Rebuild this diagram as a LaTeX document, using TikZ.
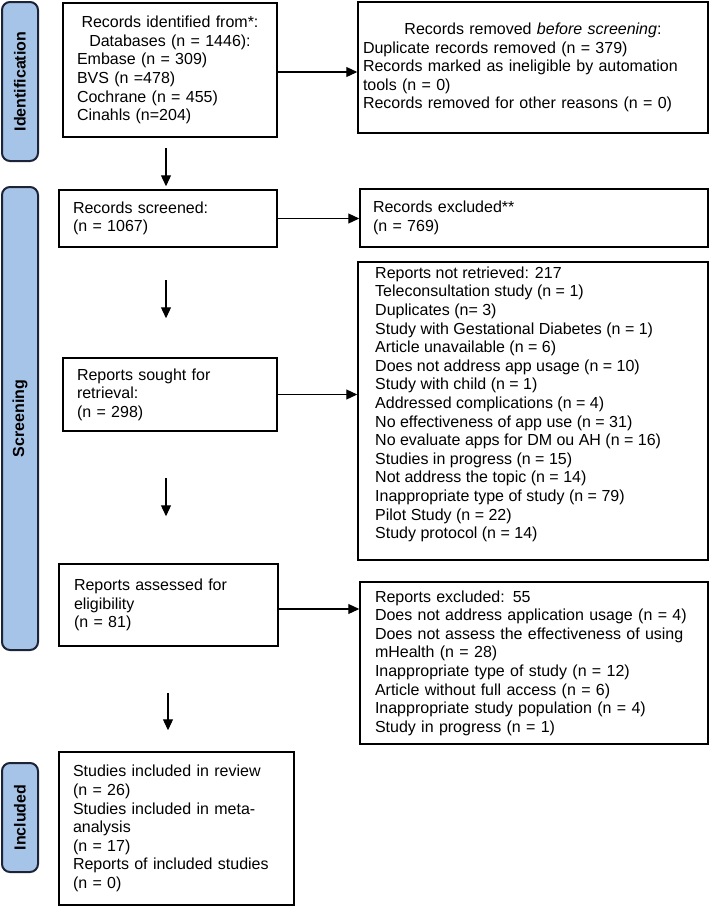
\documentclass[tikz,border=0pt]{standalone}
\usepackage{fontspec}
\setmainfont{Liberation Sans}
\usetikzlibrary{arrows.meta}
\definecolor{lblfill}{RGB}{166,196,232}
\definecolor{lbldraw}{RGB}{30,36,56}
\begin{document}
\begin{tikzpicture}[x=1pt,y=-1pt,
  txt/.style={font=\fontsize{16}{18.6}\selectfont},
  box/.style={txt, draw=black, line width=1.5pt, inner ysep=0pt, align=left},
  lbl/.style={draw=lbldraw, fill=lblfill, line width=2pt, rounded corners=8pt,
    minimum height=36pt, rotate=90, inner sep=0pt,
    font=\fontsize{16}{18}\selectfont\bfseries},
  arr/.style={line width=1.2pt, -{Triangle[length=11pt,width=10pt]}}]
\useasboundingbox (0,0) rectangle (710,906);

% phase labels
\node[lbl, minimum width=159pt] (lid) at (20,81.5) {Identification};
\node[lbl, minimum width=463pt] (lscr) at (20,418.5) {Screening};
\node[lbl, minimum width=109pt] (linc) at (20,817.5) {Included};

% left column
\node[box, minimum width=214pt, minimum height=134pt, inner xsep=14pt, text width=186pt] (id) at (170,70)
 {\makebox[\linewidth]{Records identified from*:}\\
  \makebox[\linewidth]{Databases (n = 1446):}\\
  Embase (n = 309)\\
  BVS (n =478)\\
  Cochrane (n = 455)\\
  Cinahls (n=204)};

\node[box, minimum width=218pt, minimum height=57pt, inner xsep=14pt, text width=190pt] (scr) at (168,218.5)
 {Records screened:\\(n = 1067)};

\node[box, minimum width=214pt, minimum height=73pt, inner xsep=14pt, text width=186pt] (sou) at (170,394.5)
 {Reports sought for\\retrieval:\\(n = 298)};

\node[box, minimum width=219pt, minimum height=82pt, inner xsep=15pt, text width=189pt] (asd) at (168.5,605)
 {Reports assessed for\\eligibility\\(n = 81)};

\node[box, minimum width=235pt, minimum height=153pt, inner xsep=14pt, text width=207pt] (inc) at (176.5,828.5)
 {Studies included in review\\(n = 26)\\Studies included in meta-\\analysis\\(n = 17)\\Reports of included studies\\(n = 0)};

% right column
\node[box, minimum width=350pt, minimum height=131pt, inner xsep=5pt, text width=340pt] (rem) at (533,67.5)
 {\makebox[\linewidth]{Records removed \textit{before screening}:}\\
  Duplicate records removed (n = 379)\\
  Records marked as ineligible by automation\\
  tools (n = 0)\\
  Records removed for other reasons (n = 0)};

\node[box, minimum width=348pt, minimum height=58pt, inner xsep=13pt, text width=322pt] (exc) at (534,218)
 {Records excluded**\\(n = 769)};

\node[box, minimum width=350pt, minimum height=298pt] (nr) at (533,411) {};
\node[txt, anchor=north west, align=left, inner sep=0pt] (nrt) at (375,266.5)
 {Reports not retrieved: 217\\
  Teleconsultation study (n = 1)\\
  Duplicates (n= 3)\\
  Study with Gestational Diabetes (n = 1)\\
  Article unavailable (n = 6)\\
  Does not address app usage (n = 10)\\
  Study with child (n = 1)\\
  Addressed complications (n = 4)\\
  No effectiveness of app use (n = 31)\\
  No evaluate apps for DM ou AH (n = 16)\\
  Studies in progress (n = 15)\\
  Not address the topic (n = 14)\\
  Inappropriate type of study (n = 79)\\
  Pilot Study (n = 22)\\
  Study protocol (n = 14)};

\node[box, minimum width=348pt, minimum height=162pt, inner xsep=15pt, text width=318pt] (ex2) at (534,663)
 {Reports excluded: 55\\
  Does not address application usage (n = 4)\\
  Does not assess the effectiveness of using\\
  mHealth (n = 28)\\
  Inappropriate type of study (n = 12)\\
  Article without full access (n = 6)\\
  Inappropriate study population (n = 4)\\
  Study in progress (n = 1)};

% horizontal arrows
\draw[arr] ([yshift=-2pt]id.east) -- ([yshift=-2pt]id.east -| rem.west);
\draw[arr] (scr.east) -- (scr.east -| exc.west);
\draw[arr] (sou.east) -- (sou.east -| nr.west);
\draw[arr] ([yshift=-4pt]asd.east) -- ([yshift=-4pt]asd.east -| ex2.west);

% vertical arrows
\draw[arr, shorten <=10pt, shorten >=3pt] ([xshift=-4pt]id.south) -- ([xshift=-4pt]id.south |- scr.north);
\draw[arr, shorten <=32pt, shorten >=39pt] ([xshift=-2pt]scr.south) -- ([xshift=-2pt]scr.south |- sou.north);
\draw[arr, shorten <=46pt, shorten >=47pt] ([xshift=-4pt]sou.south) -- ([xshift=-4pt]sou.south |- asd.north);
\draw[arr, shorten <=46pt, shorten >=21pt] ([xshift=-0.5pt]asd.south) -- ([xshift=-0.5pt]asd.south |- inc.north);
\end{tikzpicture}
\end{document}
